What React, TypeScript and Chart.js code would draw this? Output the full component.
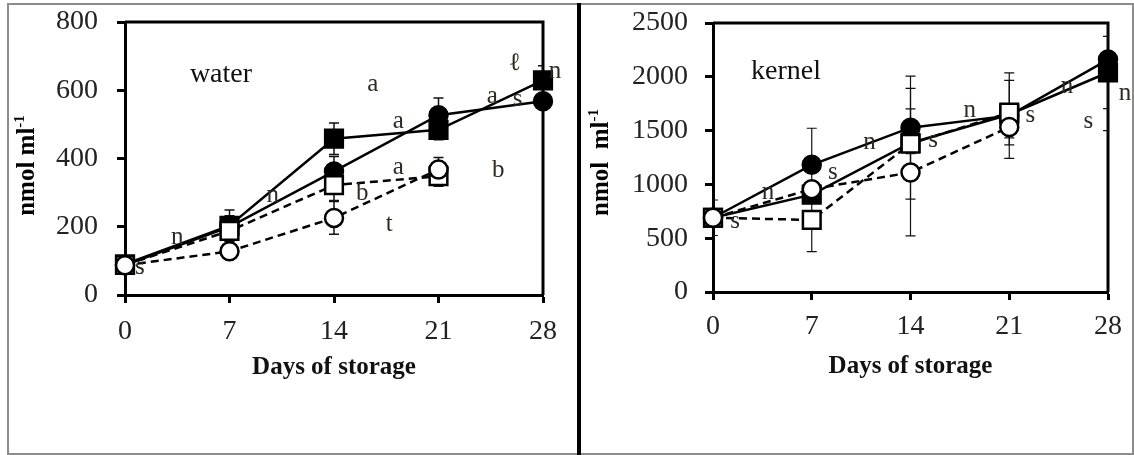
import React, { useEffect, useRef } from "react";
import { Chart, registerables } from "chart.js";

Chart.register(...registerables);

// ---------- shared axis data ----------
const days = [0, 7, 14, 21, 28];
const dayLabels = ["0", "7", "14", "21", "28"];

// ---------- water panel ----------
const waterYTicks = [0, 200, 400, 600, 800];
const waterFilledSquare = [90, 203, 458, 484, 629];
const waterFilledSquareErr = [6, 46, 46, 29, 43];
const waterFilledCircle = [88, 200, 362, 527, 568];
const waterFilledCircleErr = [6, 32, 44, 50, 20];
const waterOpenSquare = [88, 188, 322, 348];
const waterOpenSquareErr = [6, 30, 45, 29];
const waterOpenCircle = [87, 128, 226, 368];
const waterOpenCircleErr = [6, 20, 48, 35];

const waterNoteText = ["water", "a", "a", "a", "b", "t", "n", "n", "s", "a", "s", "b", "n", "ℓ"];
const waterNoteDay = [6.43, 16.6, 18.3, 18.3, 15.9, 17.7, 9.9, 3.5, 1.0, 24.6, 26.3, 25.0, 28.8, 26.1];
const waterNoteValue = [643, 614, 507, 371, 296, 203, 290, 165, 78, 580, 571, 362, 652, 675];

// ---------- kernel panel ----------
const kernelYTicks = [0, 500, 1000, 1500, 2000, 2500];
const kernelFilledCircle = [690, 1182, 1527, 1639, 2160];
const kernelFilledCircleErr = [165, 340, 480, 397, 660];
const kernelFilledSquare = [690, 905, 1385, 1650, 2040];
const kernelFilledSquareErr = [40, 60, 100, 100, 335];
const kernelOpenSquare = [690, 670, 1378, 1667];
const kernelOpenSquareErr = [40, 295, 515, 300];
const kernelOpenCircle = [690, 956, 1111, 1533];
const kernelOpenCircleErr = [40, 60, 590, 100];

const kernelNoteText = ["kernel", "s", "n", "s", "n", "s", "n", "s", "n", "s", "n"];
const kernelNoteDay = [5.17, 1.56, 3.9, 8.5, 11.1, 15.6, 18.2, 22.5, 25.1, 26.6, 29.2];
const kernelNoteValue = [2039, 652, 922, 1108, 1387, 1397, 1676, 1629, 1899, 1574, 1834];

const SERIF = "'Liberation Serif', 'Times New Roman', serif";

type Series = {
  values: number[];
  errors: number[];
  filled: boolean;
  shape: "circle" | "rect";
  dashed: boolean;
};

type PanelCfg = {
  series: Series[];
  yTicks: number[];
  noteText: string[];
  noteDay: number[];
  noteValue: number[];
  yTitle: string;
  canvasLeft: number;
  canvasWidth: number;
  yWidth: number;
  padRight: number;
  padTop: number;
  xHeight: number;
  yTickPad: number;
  xTickPad: number;
  yTitleX: number;
  yTitleShift: number;
  xTitlePad: number;
  errWidth: number;
};

function Panel({ cfg }: { cfg: PanelCfg }) {
  const ref = useRef<HTMLCanvasElement | null>(null);

  useEffect(() => {
    if (!ref.current) return;
    const yMax = cfg.yTicks[cfg.yTicks.length - 1];

    const datasets = cfg.series.map((s) => ({
      data: s.values.map((v, i) => ({ x: days[i], y: v })),
      errors: s.errors,
      borderColor: "#000",
      borderWidth: 2.5,
      borderDash: s.dashed ? [8, 5] : [],
      pointStyle: s.shape,
      pointRadius: s.shape === "rect" ? 12.5 : 9,
      pointHoverRadius: s.shape === "rect" ? 12.5 : 9,
      pointBackgroundColor: s.filled ? "#000" : "#fff",
      pointBorderColor: "#000",
      pointBorderWidth: 2.5,
      fill: false,
      tension: 0,
      clip: false,
    }));

    const decorPlugin = {
      id: "decor",
      beforeDatasetsDraw(chart: any) {
        const { ctx, chartArea: a, scales } = chart;
        const y = scales.y;
        ctx.save();
        ctx.strokeStyle = "#000";
        ctx.lineWidth = 3;
        ctx.beginPath();
        ctx.moveTo(a.left, a.top);
        ctx.lineTo(a.right, a.top);
        ctx.lineTo(a.right, a.bottom);
        ctx.stroke();
        ctx.restore();
        ctx.save();
        ctx.beginPath();
        ctx.rect(a.left, a.top, a.right - a.left, a.bottom - a.top);
        ctx.clip();
        ctx.strokeStyle = "#111";
        ctx.lineWidth = cfg.errWidth;
        const cap = 5;
        chart.data.datasets.forEach((ds: any, di: number) => {
          const meta = chart.getDatasetMeta(di);
          meta.data.forEach((pt: any, i: number) => {
            const v = ds.data[i].y;
            const e = ds.errors[i];
            if (!e) return;
            const yt = y.getPixelForValue(v + e);
            const yb = y.getPixelForValue(v - e);
            const x = pt.x;
            ctx.beginPath();
            ctx.moveTo(x, yt);
            ctx.lineTo(x, yb);
            ctx.moveTo(x - cap, yt);
            ctx.lineTo(x + cap, yt);
            ctx.moveTo(x - cap, yb);
            ctx.lineTo(x + cap, yb);
            ctx.stroke();
          });
        });
        ctx.restore();
      },
      afterDatasetsDraw(chart: any) {
        const { ctx, scales } = chart;
        ctx.save();
        ctx.textAlign = "center";
        ctx.textBaseline = "alphabetic";
        cfg.noteText.forEach((t, i) => {
          const big = t.length > 1;
          const size = big ? 28 : 25;
          ctx.font = `${size}px ${SERIF}`;
          ctx.fillStyle = big ? "#111" : "#2e2a22";
          const px = scales.x.getPixelForValue(cfg.noteDay[i]);
          const py = scales.y.getPixelForValue(cfg.noteValue[i]);
          ctx.fillText(t, px, py + size * 0.23);
        });
        ctx.restore();
      },
      afterDraw(chart: any) {
        const { ctx, chartArea: a } = chart;
        ctx.save();
        const cy = (a.top + a.bottom) / 2 + cfg.yTitleShift;
        ctx.translate(cfg.yTitleX, cy);
        ctx.rotate(-Math.PI / 2);
        ctx.fillStyle = "#000";
        ctx.textBaseline = "middle";
        const mainFont = `bold 25px ${SERIF}`;
        const supFont = `bold 15px ${SERIF}`;
        ctx.font = mainFont;
        const w1 = ctx.measureText(cfg.yTitle).width;
        ctx.font = supFont;
        const w2 = ctx.measureText("-1").width;
        const start = -(w1 + w2) / 2;
        ctx.font = mainFont;
        ctx.textAlign = "left";
        ctx.fillText(cfg.yTitle, start, 0);
        ctx.font = supFont;
        ctx.fillText("-1", start + w1, -8);
        ctx.restore();
      },
    };

    const chart = new Chart(ref.current, {
      type: "line",
      data: { datasets: datasets as any },
      options: {
        animation: false,
        responsive: false,
        maintainAspectRatio: false,
        layout: {
          padding: { left: 0, right: cfg.padRight, top: cfg.padTop, bottom: 0 },
        },
        plugins: {
          legend: { display: false },
          tooltip: { enabled: false },
        },
        scales: {
          x: {
            type: "linear",
            min: 0,
            max: 28,
            afterBuildTicks: (s: any) => {
              s.ticks = days.map((v) => ({ value: v }));
            },
            afterFit: (s: any) => {
              s.height = cfg.xHeight;
              s.paddingLeft = 0;
              s.paddingRight = 0;
            },
            ticks: {
              autoSkip: false,
              maxRotation: 0,
              padding: cfg.xTickPad,
              color: "#222",
              font: { family: SERIF, size: 28 },
              callback: (_v: any, i: number) => dayLabels[i],
            },
            grid: {
              display: true,
              drawOnChartArea: false,
              drawTicks: true,
              tickLength: 8,
              tickWidth: 3,
              tickColor: "#000",
              color: "#000",
            },
            border: { display: true, color: "#000", width: 3 },
            title: {
              display: true,
              text: "Days of storage",
              color: "#111",
              font: { family: SERIF, size: 25, weight: "bold" },
              padding: { top: 0, bottom: cfg.xTitlePad },
            },
          },
          y: {
            type: "linear",
            min: 0,
            max: yMax,
            afterBuildTicks: (s: any) => {
              s.ticks = cfg.yTicks.map((v) => ({ value: v }));
            },
            afterFit: (s: any) => {
              s.width = cfg.yWidth;
              s.paddingTop = 0;
              s.paddingBottom = 0;
            },
            ticks: {
              autoSkip: false,
              padding: cfg.yTickPad,
              color: "#222",
              font: { family: SERIF, size: 28 },
              callback: (v: any) => String(v),
            },
            grid: {
              display: true,
              drawOnChartArea: false,
              drawTicks: true,
              tickLength: 8,
              tickWidth: 3,
              tickColor: "#000",
              color: "#000",
            },
            border: { display: true, color: "#000", width: 3 },
          },
        },
      } as any,
      plugins: [decorPlugin],
    });
    return () => chart.destroy();
  }, [cfg]);

  return (
    <canvas
      ref={ref}
      width={cfg.canvasWidth}
      height={455}
      style={{ position: "absolute", left: cfg.canvasLeft, top: 0, width: cfg.canvasWidth, height: 455 }}
    />
  );
}

const waterCfg: PanelCfg = {
  series: [
    { values: waterOpenCircle, errors: waterOpenCircleErr, filled: false, shape: "circle", dashed: true },
    { values: waterOpenSquare, errors: waterOpenSquareErr, filled: false, shape: "rect", dashed: true },
    { values: waterFilledCircle, errors: waterFilledCircleErr, filled: true, shape: "circle", dashed: false },
    { values: waterFilledSquare, errors: waterFilledSquareErr, filled: true, shape: "rect", dashed: false },
  ],
  yTicks: waterYTicks,
  noteText: waterNoteText,
  noteDay: waterNoteDay,
  noteValue: waterNoteValue,
  yTitle: "nmol ml",
  canvasLeft: 0,
  canvasWidth: 576,
  yWidth: 125,
  padRight: 33,
  padTop: 22,
  xHeight: 160,
  yTickPad: 19,
  xTickPad: 12,
  yTitleX: 28,
  yTitleShift: 7,
  xTitlePad: 72,
  errWidth: 1.5,
};

const kernelCfg: PanelCfg = {
  series: [
    { values: kernelOpenCircle, errors: kernelOpenCircleErr, filled: false, shape: "circle", dashed: true },
    { values: kernelOpenSquare, errors: kernelOpenSquareErr, filled: false, shape: "rect", dashed: true },
    { values: kernelFilledCircle, errors: kernelFilledCircleErr, filled: true, shape: "circle", dashed: false },
    { values: kernelFilledSquare, errors: kernelFilledSquareErr, filled: true, shape: "rect", dashed: false },
  ],
  yTicks: kernelYTicks,
  noteText: kernelNoteText,
  noteDay: kernelNoteDay,
  noteValue: kernelNoteValue,
  yTitle: "nmol  ml",
  canvasLeft: 581,
  canvasWidth: 553,
  yWidth: 132,
  padRight: 26,
  padTop: 23,
  xHeight: 163,
  yTickPad: 17,
  xTickPad: 10,
  yTitleX: 21,
  yTitleShift: 5,
  xTitlePad: 73,
  errWidth: 1.2,
};

export default function App() {
  return (
    <div
      style={{
        position: "fixed",
        left: 0,
        top: 0,
        width: 1134,
        height: 455,
        background: "#fff",
        overflow: "hidden",
      }}
    >
      <div
        style={{
          position: "absolute",
          left: 7,
          top: 3,
          width: 1127,
          height: 452,
          border: "2px solid #8c8c8c",
          boxSizing: "border-box",
        }}
      />
      <div style={{ position: "absolute", left: 577, top: 3, width: 4, height: 452, background: "#000" }} />
      <Panel cfg={waterCfg} />
      <Panel cfg={kernelCfg} />
    </div>
  );
}
